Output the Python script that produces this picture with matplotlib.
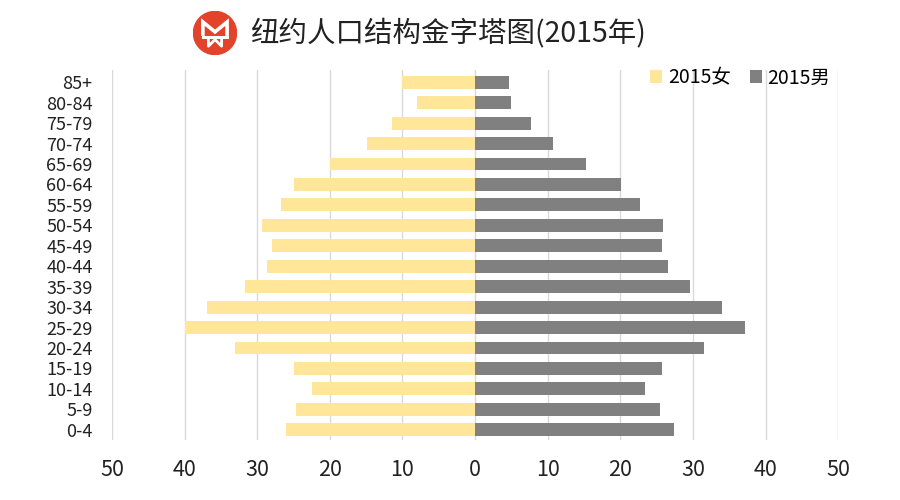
import matplotlib
matplotlib.use('Agg')
import matplotlib.pyplot as plt
from matplotlib.patches import Circle
import numpy as np

plt.rcParams['font.family'] = ['Noto Sans CJK SC', 'DejaVu Sans']

ages = ['0-4', '5-9', '10-14', '15-19', '20-24', '25-29', '30-34', '35-39', '40-44',
        '45-49', '50-54', '55-59', '60-64', '65-69', '70-74', '75-79', '80-84', '85+']
female = [26.1, 24.7, 22.5, 25.0, 33.0, 39.9, 36.9, 31.7, 28.7,
          27.9, 29.3, 26.7, 24.9, 20.0, 14.9, 11.5, 8.0, 10.0]
male = [27.4, 25.5, 23.4, 25.7, 31.5, 37.2, 34.0, 29.6, 26.5,
        25.7, 25.9, 22.7, 20.1, 15.2, 10.7, 7.7, 5.0, 4.65]
xticks = [-50, -40, -30, -20, -10, 0, 10, 20, 30, 40, 50]

fig = plt.figure(figsize=(9, 5), dpi=100)
ax = fig.add_axes([0.1244, 0.12, 0.807, 0.74])

y = np.arange(len(ages))
ax.barh(y, -np.array(female), height=0.63, color='#FFE699', label='2015女', zorder=3)
ax.barh(y, male, height=0.63, color='#808080', label='2015男', zorder=3)

ax.set_xlim(-50, 50)
ax.set_ylim(-0.5, 17.6)
ax.set_xticks(xticks)
ax.set_xticklabels([str(abs(v)) for v in xticks], fontsize=15.5, color='#222222')
ax.set_yticks(y)
ax.set_yticklabels(ages, fontsize=13, color='#222222')
ax.tick_params(length=0)
ax.tick_params(axis='x', pad=14)
ax.tick_params(axis='y', pad=14)
ax.xaxis.grid(True, color='#D9D9D9', linewidth=1, zorder=0)
for s in ax.spines.values():
    s.set_visible(False)

ax.legend(loc='upper right', bbox_to_anchor=(1.0, 1.028), ncol=2, frameon=False,
          handlelength=0.6, handleheight=0.6, handletextpad=0.3,
          columnspacing=1.0, borderaxespad=0, prop={'size': 14})

# logo, drawn in its own small square axes
lax = fig.add_axes([193/900, 1-55/500, 44/900, 44/500])
lax.set_xlim(-1, 1)
lax.set_ylim(-1, 1)
lax.set_aspect('equal')
lax.axis('off')
lax.add_patch(Circle((0, 0), 0.98, color='#E2432A'))
lax.plot([-0.55, -0.55, 0, 0.55, 0.55], [-0.05, 0.5, 0.05, 0.5, -0.05],
         color='white', linewidth=2.6, solid_joinstyle='miter')
lax.plot([-0.55, 0.55], [-0.2, -0.2], color='white', linewidth=2.2)
lax.plot([-0.3, -0.3, 0, 0.3, 0.3], [-0.2, -0.6, -0.3, -0.6, -0.2], color='white', linewidth=2)

fig.text(250/900, 1-33/500, '纽约人口结构金字塔图(2015年)', fontsize=20.5, color='#222222',
         va='center', ha='left')

plt.savefig('out.png', dpi=100)
